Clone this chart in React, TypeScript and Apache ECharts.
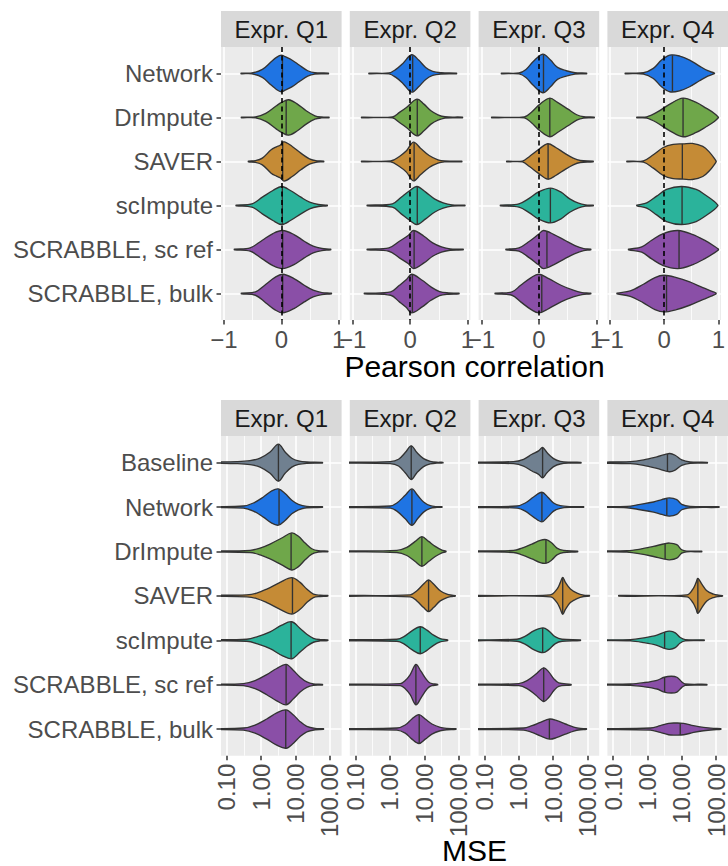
import React, { useEffect, useRef } from "react";
import * as echarts from "echarts";

type Knot = [number, number]; // [value, half-width in category units]

const corrMethods = ["Network", "DrImpute", "SAVER", "scImpute", "SCRABBLE, sc ref", "SCRABBLE, bulk"];
const mseMethods = ["Baseline", "Network", "DrImpute", "SAVER", "scImpute", "SCRABBLE, sc ref", "SCRABBLE, bulk"];
const facetLabels = ["Expr. Q1", "Expr. Q2", "Expr. Q3", "Expr. Q4"];

const corrTicks = [-1, 0, 1];
const corrMinorTicks = [-0.5, 0.5];
const mseTicks = [0.1, 1, 10, 100];
const mseMinorTicks = [0.316, 3.16, 31.6];

const methodColors: Record<string, string> = {
  Baseline: "#708090",
  Network: "#1F74E3",
  DrImpute: "#6FA74A",
  SAVER: "#C58B36",
  scImpute: "#2BB39B",
  "SCRABBLE, sc ref": "#8A4FA7",
  "SCRABBLE, bulk": "#8A4FA7",
};

// ---------- Pearson correlation violins ----------
const corrQ1Median = [0.02, 0.085, 0.024, 0.018, 0.024, 0.024];
const corrQ1Shape: Knot[][] = [
  [[-0.7, 0], [-0.51, 0.01], [-0.33, 0.091], [-0.177, 0.265], [-0.085, 0.364], [0.0, 0.417], [0.067, 0.38], [0.19, 0.3], [0.31, 0.19], [0.46, 0.061], [0.585, 0.015], [0.82, 0]],
  [[-0.695, 0], [-0.45, 0.01], [-0.27, 0.091], [-0.085, 0.265], [0.006, 0.341], [0.128, 0.402], [0.28, 0.303], [0.433, 0.152], [0.585, 0.038], [0.7, 0.01], [0.83, 0]],
  [[-0.573, 0], [-0.45, 0.02], [-0.33, 0.076], [-0.177, 0.265], [-0.085, 0.333], [-0.02, 0.37], [0.049, 0.447], [0.19, 0.341], [0.34, 0.189], [0.49, 0.061], [0.62, 0.015], [0.738, 0]],
  [[-0.787, 0], [-0.512, 0.038], [-0.33, 0.189], [-0.146, 0.341], [0.006, 0.432], [0.159, 0.341], [0.341, 0.189], [0.494, 0.076], [0.646, 0.023], [0.8, 0]],
  [[-0.817, 0], [-0.543, 0.038], [-0.33, 0.212], [-0.146, 0.364], [0.024, 0.432], [0.22, 0.341], [0.4, 0.189], [0.555, 0.076], [0.707, 0.023], [0.86, 0]],
  [[-0.695, 0], [-0.45, 0.038], [-0.268, 0.212], [-0.116, 0.364], [0.024, 0.439], [0.22, 0.341], [0.4, 0.189], [0.555, 0.076], [0.707, 0.023], [0.872, 0]],
];
const corrQ2Median = [0.045, 0.125, 0.07, 0.125, 0.07, 0.04];
const corrQ2Shape: Knot[][] = [
  [[-0.716, 0], [-0.369, 0.01], [-0.247, 0.091], [-0.125, 0.227], [0.027, 0.424], [0.149, 0.303], [0.271, 0.136], [0.393, 0.045], [0.546, 0.015], [0.808, 0]],
  [[-0.845, 0], [-0.308, 0.01], [-0.186, 0.114], [-0.064, 0.227], [0.119, 0.417], [0.241, 0.303], [0.363, 0.152], [0.485, 0.061], [0.607, 0.015], [0.912, 0]],
  [[-0.845, 0], [-0.338, 0.01], [-0.186, 0.114], [-0.064, 0.242], [0.058, 0.439], [0.18, 0.303], [0.332, 0.136], [0.485, 0.038], [0.6, 0.01], [0.9, 0]],
  [[-0.747, 0], [-0.308, 0.038], [-0.155, 0.189], [-0.003, 0.341], [0.119, 0.432], [0.271, 0.303], [0.424, 0.152], [0.576, 0.061], [0.729, 0.015], [0.954, 0]],
  [[-0.747, 0], [-0.369, 0.038], [-0.186, 0.189], [-0.034, 0.318], [0.058, 0.432], [0.241, 0.303], [0.393, 0.152], [0.546, 0.061], [0.698, 0.015], [0.924, 0]],
  [[-0.796, 0], [-0.338, 0.038], [-0.186, 0.189], [-0.064, 0.318], [0.027, 0.439], [0.21, 0.303], [0.363, 0.152], [0.515, 0.045], [0.668, 0.015], [0.851, 0]],
];
const corrQ3Median = [0.08, 0.19, 0.16, 0.2, 0.14, 0.05];
const corrQ3Shape: Knot[][] = [
  [[-0.652, 0], [-0.347, 0.01], [-0.225, 0.091], [-0.103, 0.265], [0.068, 0.439], [0.202, 0.303], [0.324, 0.136], [0.476, 0.061], [0.629, 0.015], [0.83, 0]],
  [[-0.822, 0], [-0.255, 0.01], [-0.134, 0.114], [0.019, 0.303], [0.19, 0.439], [0.324, 0.341], [0.507, 0.189], [0.659, 0.061], [0.78, 0.015], [0.963, 0]],
  [[-0.56, 0], [-0.286, 0.01], [-0.164, 0.114], [-0.012, 0.265], [0.153, 0.402], [0.293, 0.318], [0.446, 0.189], [0.598, 0.076], [0.72, 0.023], [0.945, 0]],
  [[-0.67, 0], [-0.347, 0.038], [-0.164, 0.167], [-0.012, 0.303], [0.202, 0.394], [0.385, 0.303], [0.537, 0.152], [0.69, 0.053], [0.811, 0.015], [0.946, 0]],
  [[-0.573, 0], [-0.347, 0.038], [-0.164, 0.189], [-0.012, 0.341], [0.08, 0.432], [0.263, 0.341], [0.446, 0.212], [0.628, 0.091], [0.781, 0.023], [0.903, 0]],
  [[-0.762, 0], [-0.469, 0.038], [-0.317, 0.189], [-0.134, 0.364], [0.0, 0.439], [0.171, 0.341], [0.385, 0.189], [0.598, 0.076], [0.75, 0.023], [0.903, 0]],
];
const corrQ4Median = [0.152, 0.348, 0.335, 0.33, 0.274, 0.043];
const corrQ4Shape: Knot[][] = [
  [[-0.72, 0], [-0.384, 0.015], [-0.201, 0.114], [-0.049, 0.303], [0.104, 0.417], [0.287, 0.394], [0.47, 0.303], [0.652, 0.167], [0.805, 0.061], [0.927, 0]],
  [[-0.506, 0], [-0.323, 0.015], [-0.14, 0.114], [0.104, 0.303], [0.348, 0.439], [0.591, 0.341], [0.774, 0.212], [0.927, 0.091], [1.0, 0.005]],
  [[-0.689, 0], [-0.384, 0.015], [-0.201, 0.152], [-0.018, 0.318], [0.165, 0.39], [0.35, 0.4], [0.52, 0.41], [0.713, 0.341], [0.835, 0.212], [0.945, 0.038], [0.96, 0]],
  [[-0.506, 0], [-0.323, 0.061], [-0.14, 0.212], [0.043, 0.364], [0.317, 0.432], [0.591, 0.364], [0.774, 0.227], [0.927, 0.091], [0.99, 0.01]],
  [[-0.659, 0], [-0.415, 0.061], [-0.232, 0.212], [-0.018, 0.364], [0.256, 0.432], [0.53, 0.341], [0.744, 0.212], [0.927, 0.076], [1.0, 0.01]],
  [[-0.872, 0], [-0.628, 0.061], [-0.384, 0.212], [-0.171, 0.364], [-0.006, 0.417], [0.226, 0.364], [0.47, 0.265], [0.713, 0.136], [0.896, 0.045], [0.957, 0.01]],
];

// ---------- MSE violins (values given as log10(MSE)) ----------
const mseQ1LogMedian = [0.502, 0.52, 0.87, 0.91, 0.87, 0.725, 0.715];
const mseQ1LogShape: Knot[][] = [
  [[-1.6, 0], [-0.709, 0.023], [-0.322, 0.045], [-0.031, 0.1], [0.26, 0.24], [0.502, 0.417], [0.696, 0.24], [0.89, 0.1], [1.083, 0.04], [1.326, 0.015], [1.78, 0]],
  [[-1.6, 0], [-0.516, 0.023], [-0.225, 0.091], [0.066, 0.227], [0.308, 0.364], [0.502, 0.409], [0.696, 0.303], [0.89, 0.152], [1.083, 0.061], [1.326, 0.015], [1.78, 0]],
  [[-1.6, 0], [-0.322, 0.023], [-0.031, 0.076], [0.26, 0.167], [0.599, 0.303], [0.89, 0.417], [1.083, 0.341], [1.277, 0.189], [1.471, 0.061], [1.665, 0.015], [1.936, 0]],
  [[-1.6, 0], [-0.419, 0.023], [-0.128, 0.061], [0.163, 0.152], [0.55, 0.303], [0.89, 0.409], [1.132, 0.303], [1.326, 0.152], [1.519, 0.038], [1.713, 0.015], [1.936, 0]],
  [[-1.6, 0], [-0.419, 0.023], [-0.128, 0.076], [0.26, 0.189], [0.599, 0.341], [0.89, 0.417], [1.132, 0.265], [1.326, 0.136], [1.519, 0.045], [1.713, 0.015], [1.936, 0]],
  [[-1.6, 0], [-0.516, 0.023], [-0.176, 0.091], [0.163, 0.227], [0.453, 0.364], [0.725, 0.455], [0.938, 0.318], [1.132, 0.167], [1.326, 0.061], [1.519, 0.015], [1.781, 0]],
  [[-1.6, 0], [-0.516, 0.023], [-0.176, 0.091], [0.163, 0.227], [0.453, 0.364], [0.725, 0.432], [0.938, 0.318], [1.132, 0.167], [1.326, 0.061], [1.568, 0.015], [1.81, 0]],
];
const mseQ2LogMedian = [0.618, 0.638, 0.928, 1.122, 0.88, 0.754, 0.85];
const mseQ2LogShape: Knot[][] = [
  [[-1.6, 0], [0.008, 0.023], [0.25, 0.076], [0.444, 0.227], [0.618, 0.379], [0.783, 0.227], [0.977, 0.091], [1.171, 0.03], [1.364, 0.008], [1.539, 0]],
  [[-1.6, 0], [0.008, 0.023], [0.202, 0.091], [0.444, 0.265], [0.638, 0.409], [0.802, 0.265], [0.977, 0.114], [1.171, 0.03], [1.364, 0.008], [1.51, 0]],
  [[-1.6, 0], [0.202, 0.023], [0.492, 0.091], [0.734, 0.227], [0.928, 0.333], [1.122, 0.227], [1.316, 0.114], [1.51, 0.03], [1.626, 0]],
  [[-1.6, 0], [0.589, 0.023], [0.783, 0.114], [0.977, 0.265], [1.122, 0.356], [1.267, 0.265], [1.461, 0.114], [1.655, 0.038], [1.8, 0.015], [1.897, 0]],
  [[-1.6, 0], [0.202, 0.023], [0.395, 0.076], [0.638, 0.212], [0.88, 0.303], [1.074, 0.227], [1.267, 0.114], [1.461, 0.038], [1.674, 0]],
  [[-1.6, 0], [0.298, 0.023], [0.444, 0.091], [0.589, 0.227], [0.754, 0.455], [0.899, 0.303], [1.025, 0.152], [1.122, 0.061], [1.219, 0.023], [1.384, 0]],
  [[-1.6, 0], [0.202, 0.023], [0.444, 0.091], [0.638, 0.227], [0.841, 0.326], [1.025, 0.227], [1.219, 0.114], [1.461, 0.038], [1.655, 0.015], [1.917, 0]],
];
const mseQ3LogMedian = [0.693, 0.673, 0.79, 1.277, 0.695, 0.725, 0.89];
const mseQ3LogShape: Knot[][] = [
  [[-1.6, 0], [-0.15, 0.023], [0.14, 0.076], [0.383, 0.189], [0.577, 0.265], [0.693, 0.341], [0.819, 0.227], [1.013, 0.091], [1.206, 0.03], [1.497, 0.01], [1.807, 0]],
  [[-1.6, 0], [-0.053, 0.023], [0.189, 0.091], [0.431, 0.227], [0.673, 0.333], [0.838, 0.227], [1.013, 0.091], [1.206, 0.03], [1.497, 0.008], [1.884, 0]],
  [[-1.6, 0], [-0.15, 0.023], [0.092, 0.076], [0.383, 0.167], [0.625, 0.25], [0.8, 0.265], [0.964, 0.189], [1.11, 0.076], [1.303, 0.023], [1.71, 0]],
  [[-1.6, 0], [0.919, 0.023], [1.112, 0.152], [1.209, 0.303], [1.277, 0.417], [1.355, 0.303], [1.5, 0.152], [1.694, 0.061], [1.888, 0.015], [2.052, 0]],
  [[-1.6, 0], [-0.05, 0.023], [0.192, 0.091], [0.434, 0.212], [0.705, 0.28], [0.87, 0.212], [1.064, 0.076], [1.258, 0.023], [1.791, 0]],
  [[-1.6, 0], [0.0, 0.023], [0.242, 0.091], [0.483, 0.227], [0.725, 0.379], [0.87, 0.288], [1.016, 0.136], [1.161, 0.038], [1.519, 0]],
  [[-1.6, 0], [0.143, 0.023], [0.386, 0.076], [0.628, 0.152], [0.899, 0.227], [1.112, 0.189], [1.355, 0.114], [1.597, 0.045], [1.791, 0.015], [1.965, 0]],
];
const mseQ4LogMedian = [0.585, 0.566, 0.517, 1.471, 0.502, 0.502, 0.957];
const mseQ4LogShape: Knot[][] = [
  [[-1.6, 0], [-0.5, 0.023], [-0.112, 0.061], [0.275, 0.129], [0.643, 0.205], [0.808, 0.167], [1.002, 0.061], [1.244, 0.015], [1.748, 0]],
  [[-1.6, 0], [-0.597, 0.015], [-0.209, 0.061], [0.178, 0.114], [0.42, 0.167], [0.643, 0.205], [0.856, 0.167], [1.002, 0.061], [1.244, 0.015], [2.087, 0]],
  [[-1.6, 0], [-0.597, 0.015], [-0.209, 0.053], [0.178, 0.114], [0.469, 0.167], [0.643, 0.189], [0.856, 0.152], [1.002, 0.038], [1.15, 0.008], [1.583, 0]],
  [[-0.835, 0], [1.151, 0.023], [1.326, 0.152], [1.422, 0.303], [1.471, 0.394], [1.587, 0.265], [1.733, 0.114], [1.926, 0.038], [2.072, 0.015], [2.188, 0]],
  [[-1.6, 0], [-0.496, 0.015], [-0.109, 0.053], [0.279, 0.114], [0.521, 0.189], [0.647, 0.205], [0.812, 0.167], [0.957, 0.061], [1.103, 0.015], [1.655, 0]],
  [[-1.6, 0], [-0.496, 0.015], [-0.109, 0.045], [0.279, 0.098], [0.492, 0.167], [0.696, 0.189], [0.86, 0.167], [1.006, 0.061], [1.103, 0.015], [1.733, 0]],
  [[-1.6, 0], [0.085, 0.023], [0.376, 0.076], [0.618, 0.129], [0.812, 0.136], [1.054, 0.129], [1.345, 0.076], [1.636, 0.038], [1.926, 0.015], [2.14, 0]],
];

const corrMedians = [corrQ1Median, corrQ2Median, corrQ3Median, corrQ4Median];
const corrShapes = [corrQ1Shape, corrQ2Shape, corrQ3Shape, corrQ4Shape];
const mseMedians = [mseQ1LogMedian, mseQ2LogMedian, mseQ3LogMedian, mseQ4LogMedian];
const mseShapes = [mseQ1LogShape, mseQ2LogShape, mseQ3LogShape, mseQ4LogShape];

const FONT = "'Liberation Sans', Arial, Helvetica, sans-serif";
const MIN_W = 0.007;

function widthAt(knots: Knot[], x: number): number {
  for (let i = 0; i < knots.length - 1; i++) {
    const [x0, w0] = knots[i];
    const [x1, w1] = knots[i + 1];
    if (x >= x0 && x <= x1) {
      const t = x1 === x0 ? 0 : (x - x0) / (x1 - x0);
      return w0 + (w1 - w0) * t;
    }
  }
  return 0;
}

function buildOption() {
  const panelLeft = [221, 349.8, 478.6, 607.4];
  const panelW = 120.6;
  const rows = [
    { top: 47, height: 273, stripTop: 11 },
    { top: 436, height: 319.7, stripTop: 400 },
  ];
  const grids: any[] = [];
  const xAxes: any[] = [];
  const yAxes: any[] = [];
  const series: any[] = [];
  const graphics: any[] = [];

  const tickStyle = { color: "#333333", width: 1.5 };

  for (let r = 0; r < 2; r++) {
    const isTop = r === 0;
    const cats = isTop ? corrMethods : mseMethods;
    const catIdx = cats.map((_, i) => i);
    const majors = isTop ? corrTicks : mseTicks.map((v) => Math.log10(v));
    const minors = isTop ? corrMinorTicks : mseMinorTicks.map((v) => Math.log10(v));
    for (let c = 0; c < 4; c++) {
      const g = r * 4 + c;
      grids.push({
        left: panelLeft[c],
        top: rows[r].top,
        width: panelW,
        height: rows[r].height,
        show: true,
        backgroundColor: "#EBEBEB",
        borderWidth: 0,
      });
      const xmin = isTop ? -1.05 : -1.166;
      const xmax = isTop ? 1.05 : 2.337;
      xAxes.push({
        type: "value",
        gridIndex: g,
        position: "bottom",
        min: xmin,
        max: xmax,
        axisLine: { show: false, onZero: false },
        axisTick: { show: true, customValues: majors, length: 4.5, lineStyle: tickStyle },
        axisLabel: {
          show: true,
          customValues: majors,
          fontSize: 24,
          fontFamily: FONT,
          color: "#4D4D4D",
          margin: isTop ? 7 : 8,
          rotate: isTop ? 0 : 90,
          formatter: isTop
            ? (v: number) => (v < 0 ? "\u2212" + Math.abs(v) : String(v))
            : (v: number) => Math.pow(10, v).toFixed(2),
        },
        splitLine: { show: true, lineStyle: { color: "#FFFFFF", width: 1.6 } },
      });
      xAxes.push({
        type: "value",
        gridIndex: g,
        position: "top",
        min: xmin,
        max: xmax,
        axisLine: { show: false, onZero: false },
        axisTick: { show: false, customValues: minors },
        axisLabel: { show: false, customValues: minors },
        splitLine: { show: true, lineStyle: { color: "#FFFFFF", width: 0.8 } },
      });
      yAxes.push({
        type: "value",
        gridIndex: g,
        position: "left",
        min: -0.6,
        max: cats.length - 1 + 0.6,
        inverse: true,
        axisLine: { show: false, onZero: false },
        axisTick: { show: c === 0, customValues: catIdx, length: 4.5, lineStyle: tickStyle },
        axisLabel: {
          show: c === 0,
          customValues: catIdx,
          fontSize: 24,
          fontFamily: FONT,
          color: "#4D4D4D",
          margin: 8,
          formatter: (v: number) => cats[Math.round(v)] ?? "",
        },
        splitLine: { show: true, lineStyle: { color: "#FFFFFF", width: 1.6 } },
      });

      const medians = isTop ? corrMedians[c] : mseMedians[c];
      const shapes = isTop ? corrShapes[c] : mseShapes[c];
      series.push({
        type: "custom",
        xAxisIndex: 2 * g,
        yAxisIndex: g,
        clip: true,
        silent: true,
        z: 3,
        data: medians.map((m, i) => [m, i]),
        encode: { x: 0, y: 1 },
        renderItem: (params: any, api: any) => {
          const i = params.dataIndex;
          const knots = shapes[i];
          const color = methodColors[cats[i]];
          const topPts = knots.map(([x, w]) => api.coord([x, i - Math.max(w, MIN_W)]));
          const botPts = knots
            .slice()
            .reverse()
            .map(([x, w]) => api.coord([x, i + Math.max(w, MIN_W)]));
          const m = medians[i];
          const wm = widthAt(knots, m);
          const p1 = api.coord([m, i - wm]);
          const p2 = api.coord([m, i + wm]);
          return {
            type: "group",
            children: [
              {
                type: "polygon",
                shape: { points: topPts.concat(botPts), smooth: 0.35 },
                style: { fill: color, stroke: "#333333", lineWidth: 1.35 },
              },
              {
                type: "line",
                shape: { x1: p1[0], y1: p1[1], x2: p2[0], y2: p2[1] },
                style: { stroke: "#333333", lineWidth: 1.35 },
              },
            ],
          };
        },
        markLine: isTop
          ? {
              silent: true,
              symbol: "none",
              label: { show: false },
              lineStyle: { type: [5, 3.5], color: "#000000", width: 1.6 },
              data: [{ xAxis: 0 }],
            }
          : undefined,
      });

      // facet strip
      graphics.push({
        type: "rect",
        silent: true,
        shape: { x: panelLeft[c], y: rows[r].stripTop, width: panelW, height: rows[r].top - rows[r].stripTop },
        style: { fill: "#D9D9D9" },
      });
      graphics.push({
        type: "text",
        silent: true,
        x: panelLeft[c] + panelW / 2,
        y: (rows[r].stripTop + rows[r].top) / 2 + 0.5,
        style: {
          text: facetLabels[c],
          fontSize: 24,
          fontFamily: FONT,
          fill: "#1A1A1A",
          align: "center",
          verticalAlign: "middle",
        },
      });
    }
  }

  graphics.push({
    type: "text",
    silent: true,
    x: 474.5,
    y: 366.5,
    style: { text: "Pearson correlation", fontSize: 30, fontFamily: FONT, fill: "#000000", align: "center", verticalAlign: "middle" },
  });
  graphics.push({
    type: "text",
    silent: true,
    x: 474.5,
    y: 850,
    style: { text: "MSE", fontSize: 30, fontFamily: FONT, fill: "#000000", align: "center", verticalAlign: "middle" },
  });

  return {
    animation: false,
    backgroundColor: "#FFFFFF",
    textStyle: { fontFamily: FONT },
    grid: grids,
    xAxis: xAxes,
    yAxis: yAxes,
    series,
    graphic: graphics,
  };
}

export default function App() {
  const ref = useRef<HTMLDivElement>(null);
  useEffect(() => {
    document.body.style.margin = "0";
    if (!ref.current) return;
    const chart = echarts.init(ref.current, undefined, { renderer: "svg" });
    chart.setOption(buildOption() as any);
    return () => chart.dispose();
  }, []);
  return <div ref={ref} style={{ width: 728, height: 866 }} />;
}
